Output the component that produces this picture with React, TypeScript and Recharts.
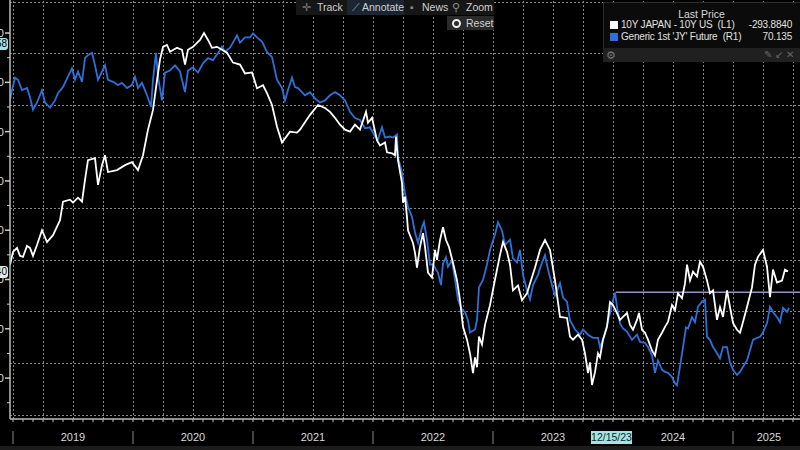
import React from "react";
import { LineChart, Line, XAxis, YAxis, ReferenceLine } from "recharts";

// months since Jan 2019 / spread in bp (10Y JGB - 10Y UST), left axis
const spreadMonths = [
  -0.3, 0, 0.4, 0.7, 1.0, 1.4, 1.7, 2.0, 2.4, 2.9, 3.4, 4.0, 4.7, 5.0, 5.7, 6.0, 6.5, 6.9, 7.2, 7.5,
  8.2, 8.5, 8.9, 9.2, 9.5, 10.4, 11.2, 11.9, 12.5, 13.0, 13.5, 14.0, 14.4, 14.7, 15.0, 15.4, 15.7,
  16.4, 16.9, 17.2, 17.5, 18.0, 18.7, 19.1, 19.5, 19.9, 20.4, 20.9, 21.4, 22.0, 22.7, 23.2, 23.9,
  24.4, 25.0, 25.4, 25.9, 26.4, 26.9, 27.7, 28.4, 28.7, 29.7, 30.5, 31.2, 31.7, 32.2, 32.7, 33.2,
  33.7, 34.2, 34.7, 35.3, 35.5, 35.9, 36.4, 36.7, 37.2, 37.4, 37.9, 38.2, 38.3, 38.5, 38.9, 39.0,
  39.2, 39.4, 39.5, 40.0, 40.2, 40.4, 40.7, 41.0, 41.2, 41.5, 41.9, 42.2, 42.4, 42.7, 43.0, 43.3,
  43.6, 44.0, 44.4, 44.7, 45.0, 45.4, 45.7, 46.0, 46.2, 46.4, 46.6, 46.9, 47.2, 47.7, 48.2, 48.7,
  49.0, 49.4, 49.7, 50.0, 50.5, 50.9, 51.4, 51.7, 52.2, 52.7, 53.2, 53.7, 54.2, 54.7, 55.4, 55.7,
  56.0, 56.5, 56.9, 57.2, 57.5, 57.7, 57.9, 58.2, 58.5, 58.7, 59.0, 59.4, 59.7, 60.0, 60.4, 60.7,
  61.0, 61.4, 61.7, 62.0, 62.4, 62.6, 62.9, 63.2, 63.5, 63.9, 64.2, 64.5, 64.9, 65.2, 65.5, 65.9,
  66.2, 66.5, 66.9, 67.2, 67.4, 67.7, 68.0, 68.4, 68.7, 69.0, 69.4, 69.7, 70.0, 70.4, 70.7, 71.0,
  71.4, 71.7, 72.0, 72.4, 72.7, 73.0, 73.4, 73.9, 74.2, 74.5, 75.0, 75.4, 75.7, 76.0, 76.4, 76.9,
  77.2, 77.5,
];
const spreadValues = [
  -285, -272, -268, -276, -277, -266, -268, -276, -265, -250, -262, -255, -240, -221, -219, -222,
  -217, -221, -199, -179, -177, -204, -184, -174, -191, -189, -184, -181, -189, -174, -148, -128,
  -98, -77, -64, -62, -69, -65, -67, -82, -67, -64, -57, -50, -57, -65, -64, -67, -70, -80, -82,
  -91, -90, -106, -103, -111, -123, -145, -161, -150, -151, -148, -133, -123, -126, -130, -136,
  -143, -148, -150, -143, -148, -130, -141, -136, -159, -164, -161, -171, -172, -174, -155, -179,
  -202, -222, -216, -237, -250, -263, -273, -288, -267, -253, -267, -293, -298, -270, -280, -260,
  -247, -260, -267, -283, -301, -321, -348, -361, -375, -395, -379, -389, -358, -366, -346, -326,
  -300, -275, -262, -272, -285, -311, -306, -321, -314, -304, -288, -270, -260, -270, -301, -338,
  -339, -358, -361, -356, -361, -375, -395, -384, -407, -394, -375, -379, -361, -348, -323, -326,
  -334, -341, -338, -334, -346, -351, -341, -334, -351, -354, -361, -372, -377, -361, -354, -348,
  -343, -326, -331, -314, -319, -304, -285, -301, -292, -297, -282, -287, -301, -314, -311, -341,
  -328, -338, -311, -328, -344, -351, -354, -343, -328, -308, -285, -277, -270, -287, -318, -290,
  -303, -301, -290, -292,
];

// months since Jan 2019 / Generic 1st 'JY' future, right axis
const yenMonths = [
  -0.5, -0.1, 0.2, 0.5, 0.9, 1.4, 1.7, 2.0, 2.4, 2.9, 3.2, 3.7, 4.2, 4.5, 5.0, 5.5, 5.9, 6.2, 6.5,
  6.9, 7.2, 7.5, 7.9, 8.2, 8.5, 8.9, 9.2, 9.5, 10.0, 10.5, 10.9, 11.4, 11.9, 12.2, 12.5, 12.9, 13.4,
  13.8, 14.0, 14.3, 14.5, 14.9, 15.2, 15.7, 16.2, 16.7, 17.2, 17.5, 18.0, 18.5, 19.0, 19.5, 20.0,
  20.5, 20.9, 21.2, 21.7, 22.0, 22.4, 22.7, 23.2, 23.7, 24.0, 24.4, 24.9, 25.4, 25.9, 26.4, 26.9,
  27.2, 27.5, 27.9, 28.2, 28.5, 29.2, 29.7, 30.2, 30.7, 31.2, 31.7, 32.2, 32.7, 33.2, 33.7, 34.2,
  34.7, 35.2, 35.7, 36.2, 36.5, 36.9, 37.2, 37.7, 38.0, 38.4, 38.5, 38.9, 39.2, 39.5, 39.9, 40.2,
  40.5, 40.9, 41.1, 41.4, 41.7, 42.0, 42.5, 42.8, 43.0, 43.3, 43.5, 43.9, 44.2, 44.5, 44.9, 45.2,
  45.5, 45.7, 46.2, 46.4, 46.6, 47.0, 47.4, 47.7, 48.2, 48.5, 48.9, 49.2, 49.7, 50.0, 50.4, 50.7,
  51.0, 51.4, 51.7, 52.0, 52.5, 52.9, 53.2, 53.5, 53.9, 54.2, 54.7, 55.0, 55.4, 55.7, 56.2, 56.7,
  57.0, 57.5, 58.0, 58.5, 58.7, 59.0, 59.4, 59.9, 60.2, 60.4, 60.7, 61.0, 61.4, 61.9, 62.4, 62.7,
  63.2, 63.5, 63.9, 64.2, 64.5, 64.9, 65.2, 65.5, 65.9, 66.2, 66.4, 66.7, 67.0, 67.3, 67.5, 67.9,
  68.2, 68.5, 68.9, 69.2, 69.4, 69.7, 70.0, 70.4, 70.7, 71.0, 71.4, 71.7, 72.0, 72.4, 72.7, 73.0,
  73.4, 73.7, 74.0, 74.4, 74.7, 75.0, 75.4, 75.7, 76.0, 76.4, 76.7, 77.0, 77.4, 77.6,
];
const yenValues = [
  89.6, 91.5, 92.7, 92.5, 91.5, 91.7, 90.8, 89.6, 90.3, 91.5, 90.3, 89.8, 90.5, 91.2, 91.8, 92.8,
  93.6, 92.5, 93.3, 92.3, 94.6, 94.9, 95.1, 93.9, 92.5, 93.3, 93.9, 92.5, 92.3, 92.0, 92.2, 91.7,
  92.0, 92.8, 91.7, 92.2, 91.0, 89.9, 92.5, 95.1, 92.8, 90.5, 93.2, 93.4, 93.9, 93.3, 91.3, 93.4,
  93.7, 93.2, 94.1, 94.6, 94.4, 95.1, 95.7, 95.2, 95.6, 96.1, 96.8, 96.1, 96.6, 96.6, 97.0, 96.6,
  96.2, 95.2, 94.7, 92.5, 91.7, 90.5, 91.5, 92.7, 91.8, 91.7, 91.0, 91.3, 90.7, 90.3, 90.5, 91.0,
  91.3, 91.0, 90.5, 89.4, 88.8, 88.6, 87.8, 87.9, 87.0, 86.7, 87.9, 86.9, 87.0, 86.9, 87.2, 85.0,
  83.5, 81.5, 80.2, 79.2, 77.7, 76.7, 78.2, 78.7, 77.0, 74.6, 74.6, 73.8, 72.6, 74.7, 75.3, 74.4,
  75.0, 73.1, 71.2, 70.2, 70.0, 69.2, 68.0, 68.3, 69.2, 72.4, 73.1, 74.6, 76.0, 77.5, 78.7, 77.9,
  76.5, 77.0, 75.2, 74.8, 76.0, 73.6, 72.1, 71.2, 72.6, 73.6, 74.8, 75.5, 74.1, 72.6, 71.6, 72.8,
  71.4, 71.0, 69.2, 68.3, 67.8, 68.3, 67.8, 67.5, 67.5, 66.6, 67.3, 68.7, 70.7, 71.9, 70.5, 68.9,
  68.4, 68.1, 67.3, 67.8, 67.1, 67.0, 66.6, 65.8, 64.1, 65.3, 64.4, 64.2, 64.1, 63.7, 63.1, 62.9,
  64.7, 66.6, 68.5, 68.4, 69.5, 69.0, 70.5, 71.0, 71.2, 67.6, 67.3, 66.6, 66.0, 65.5, 66.6, 66.6,
  65.1, 64.4, 63.9, 64.2, 64.7, 65.3, 66.3, 67.3, 67.5, 67.6, 68.0, 68.9, 70.5, 70.0, 69.5, 69.0,
  70.4, 70.0, 70.4,
];

const spreadTicks = [
  -50, -75, -100, -125, -150, -175, -200, -225, -250, -275, -300, -325, -350, -375, -400, -425,
];
const yenGridTicks = [60, 65, 70, 75, 80, 85, 90, 95, 100];
const quarterTicks = [
  0, 3, 6, 9, 12, 15, 18, 21, 24, 27, 30, 33, 36, 39, 42, 45, 48, 51, 54, 57, 60, 63, 66, 69, 72,
  75, 78,
];
const yearLabels = ["2019", "2020", "2021", "2022", "2023", "2024", "2025"];
const yearLabelMonths = [6, 18, 30, 42, 54, 66, 75.6];

const annotMonth = 60.3; // 12/15/23 level line
const annotSpread = -313;

const xDomain: [number, number] = [-0.3, 78.7];
const leftDomain: [number, number] = [-441.5, -16.5];
const rightDomain: [number, number] = [59.63, 100.23];

const monthTicks = Array.from({ length: 79 }, (_, i) => i);
const xTicks = Array.from(new Set([...monthTicks, ...yearLabelMonths])).sort((a, b) => a - b);

const spreadData = spreadMonths.map((m, i) => ({ m, spread: spreadValues[i] }));
const yenData = yenMonths.map((m, i) => ({ m, yen: yenValues[i] }));

const FONT = "'Liberation Sans', Arial, sans-serif";
const GRID = "#858585";

const MonthTick = (props: any) => {
  const { x, y, payload } = props;
  const v = payload.value;
  const isMonth = Number.isInteger(v);
  const labelIdx = yearLabelMonths.indexOf(v);
  return (
    <g>
      {isMonth && <line x1={x} x2={x} y1={y} y2={y + 3} stroke="#bbb" strokeWidth={1} />}
      {isMonth && v % 12 === 0 && (
        <line x1={x} x2={x} y1={y + 12} y2={y + 25} stroke="#888" strokeWidth={1} />
      )}
      {labelIdx >= 0 && (
        <text x={x} y={y + 22} textAnchor="middle" fill="#d8d8d8" fontSize={11} fontFamily={FONT}>
          {yearLabels[labelIdx]}
        </text>
      )}
    </g>
  );
};

const LeftTick = (props: any) => {
  const { x, y, payload } = props;
  const major = payload.value % 50 === 0;
  return (
    <g>
      <line x1={x - (major ? 5 : 3)} x2={x} y1={y} y2={y} stroke="#ccc" strokeWidth={major ? 1.5 : 1} />
      {major && (
        <text x={x - 6} y={y + 4} textAnchor="end" fill="#ddd" fontSize={11} fontFamily={FONT}>
          {payload.value}
        </text>
      )}
    </g>
  );
};

const toolText: React.CSSProperties = {
  position: "absolute",
  top: 1,
  fontSize: 10.5,
  color: "#cfcfcf",
  lineHeight: "13px",
};

const legendText: React.CSSProperties = {
  position: "absolute",
  fontSize: 10,
  letterSpacing: -0.2,
  color: "#e0e0e0",
  lineHeight: "12px",
  whiteSpace: "pre",
};

// value tag stuck on the left edge; only its tail shows
const EdgeTag = ({ top, text, bg }: { top: number; text: string; bg: string }) => (
  <div
    style={{
      position: "absolute",
      left: 0,
      top,
      width: 8,
      height: 12,
      overflow: "hidden",
      background: bg,
      borderRadius: "0 3px 3px 0",
    }}
  >
    <span
      style={{
        position: "absolute",
        right: 1,
        top: 0,
        color: "#000",
        fontSize: 10,
        lineHeight: "12px",
        whiteSpace: "nowrap",
      }}
    >
      {text}
    </span>
  </div>
);

export default function App() {
  return (
    <div
      style={{
        position: "fixed",
        left: 0,
        top: 0,
        width: 800,
        height: 450,
        background: "#000",
        overflow: "hidden",
        fontFamily: FONT,
      }}
    >
      <LineChart width={800} height={450} margin={{ top: 0, right: 0, bottom: 0, left: 0 }}>
        <XAxis
          xAxisId="m"
          dataKey="m"
          type="number"
          domain={xDomain}
          allowDataOverflow
          ticks={xTicks}
          interval={0}
          tick={<MonthTick />}
          tickLine={false}
          tickSize={0}
          tickMargin={0}
          axisLine={{ stroke: "#bbb", strokeWidth: 1.5 }}
          height={31}
        />
        <YAxis
          yAxisId="L"
          type="number"
          domain={leftDomain}
          allowDataOverflow
          ticks={spreadTicks}
          interval={0}
          tick={<LeftTick />}
          tickLine={false}
          tickSize={0}
          tickMargin={0}
          axisLine={{ stroke: "#bbb", strokeWidth: 1.5 }}
          width={10}
        />
        <YAxis
          yAxisId="R"
          orientation="right"
          type="number"
          domain={rightDomain}
          allowDataOverflow
          ticks={yenGridTicks}
          tick={false}
          tickLine={false}
          axisLine={false}
          width={0}
        />
        {/* dotted grid: quarters on the time axis, 5-point steps on the right axis */}
        {quarterTicks.map((q) => (
          <ReferenceLine
            key={`q${q}`}
            xAxisId="m"
            yAxisId="L"
            x={q}
            stroke={GRID}
            strokeWidth={1}
            strokeDasharray="2 2"
            shapeRendering="crispEdges"
          />
        ))}
        {yenGridTicks.map((v) => (
          <ReferenceLine
            key={`g${v}`}
            xAxisId="m"
            yAxisId="R"
            y={v}
            stroke={GRID}
            strokeWidth={1}
            strokeDasharray="2 2"
            shapeRendering="crispEdges"
          />
        ))}
        <ReferenceLine
          xAxisId="m"
          yAxisId="L"
          segment={[
            { x: annotMonth, y: annotSpread },
            { x: xDomain[1], y: annotSpread },
          ]}
          stroke="#9393c8"
          strokeWidth={1.5}
        />
        <Line
          xAxisId="m"
          yAxisId="R"
          data={yenData}
          dataKey="yen"
          type="linear"
          stroke="#2f70d8"
          strokeWidth={1.8}
          dot={false}
          isAnimationActive={false}
        />
        <Line
          xAxisId="m"
          yAxisId="L"
          data={spreadData}
          dataKey="spread"
          type="linear"
          stroke="#ffffff"
          strokeWidth={1.8}
          dot={false}
          isAnimationActive={false}
        />
      </LineChart>

      <EdgeTag top={38} text="-58" bg="#a6e4e4" />
      <EdgeTag top={266} text="-293.8840" bg="#e8e8e8" />

      {/* toolbar */}
      <div style={{ position: "absolute", left: 296, top: 0, width: 198, height: 15, background: "#161616" }} />
      <div style={{ position: "absolute", left: 347, top: 0, width: 57, height: 15, background: "#1c2633" }} />
      <div style={{ ...toolText, left: 302, color: "#777" }}>✛</div>
      <div style={{ ...toolText, left: 317 }}>Track</div>
      <div style={{ ...toolText, left: 352, color: "#8a9bb0" }}>⟋</div>
      <div style={{ ...toolText, left: 362 }}>Annotate</div>
      <div style={{ ...toolText, left: 410, color: "#888" }}>▪</div>
      <div style={{ ...toolText, left: 422 }}>News</div>
      <div style={{ ...toolText, left: 452, color: "#888" }}>⚲</div>
      <div style={{ ...toolText, left: 466 }}>Zoom</div>
      <div style={{ position: "absolute", left: 447, top: 16, width: 47, height: 14, background: "#2a2a2a" }} />
      <div
        style={{
          position: "absolute",
          left: 452,
          top: 19,
          width: 5,
          height: 5,
          borderRadius: 5,
          border: "2px solid #eee",
          background: "#2a2a2a",
        }}
      />
      <div style={{ ...toolText, left: 466, top: 17 }}>Reset</div>

      {/* legend */}
      <div
        style={{
          position: "absolute",
          left: 603,
          top: 2,
          width: 200,
          height: 46,
          background: "#0b0b0b",
          border: "1px solid #2a2a2a",
        }}
      />
      <div style={{ position: "absolute", left: 603, top: 48, width: 200, height: 14, background: "#202020" }} />
      <div style={{ position: "absolute", left: 606, top: 48, fontSize: 11, color: "#777", lineHeight: "14px" }}>⚙</div>
      <div style={{ position: "absolute", left: 764, top: 48, fontSize: 10, color: "#666", lineHeight: "14px" }}>
        ✎ ↙ ✕
      </div>
      <div
        style={{
          position: "absolute",
          left: 603,
          top: 8,
          width: 197,
          textAlign: "center",
          fontSize: 10.5,
          color: "#d8d8d8",
          lineHeight: "13px",
        }}
      >
        Last Price
      </div>
      <div style={{ position: "absolute", left: 610, top: 21, width: 8, height: 8, background: "#fff" }} />
      <div style={{ position: "absolute", left: 610, top: 33, width: 8, height: 8, background: "#2f70d8" }} />
      <div style={{ ...legendText, left: 621, top: 19 }}>{"10Y JAPAN - 10Y US  (L1)"}</div>
      <div style={{ ...legendText, left: 621, top: 31 }}>{"Generic 1st 'JY' Future  (R1)"}</div>
      <div style={{ ...legendText, right: 8, top: 19 }}>-293.8840</div>
      <div style={{ ...legendText, right: 8, top: 31 }}>70.135</div>

      {/* date annotation on the time axis */}
      <div
        style={{
          position: "absolute",
          left: 591,
          top: 431,
          width: 41,
          height: 13,
          background: "#a6e4e4",
          color: "#0a2a2a",
          fontSize: 10.5,
          lineHeight: "13px",
          textAlign: "center",
        }}
      >
        12/15/23
      </div>
      <div style={{ position: "absolute", left: 0, top: 446, width: 800, height: 4, background: "#1c1c1c" }} />
    </div>
  );
}
